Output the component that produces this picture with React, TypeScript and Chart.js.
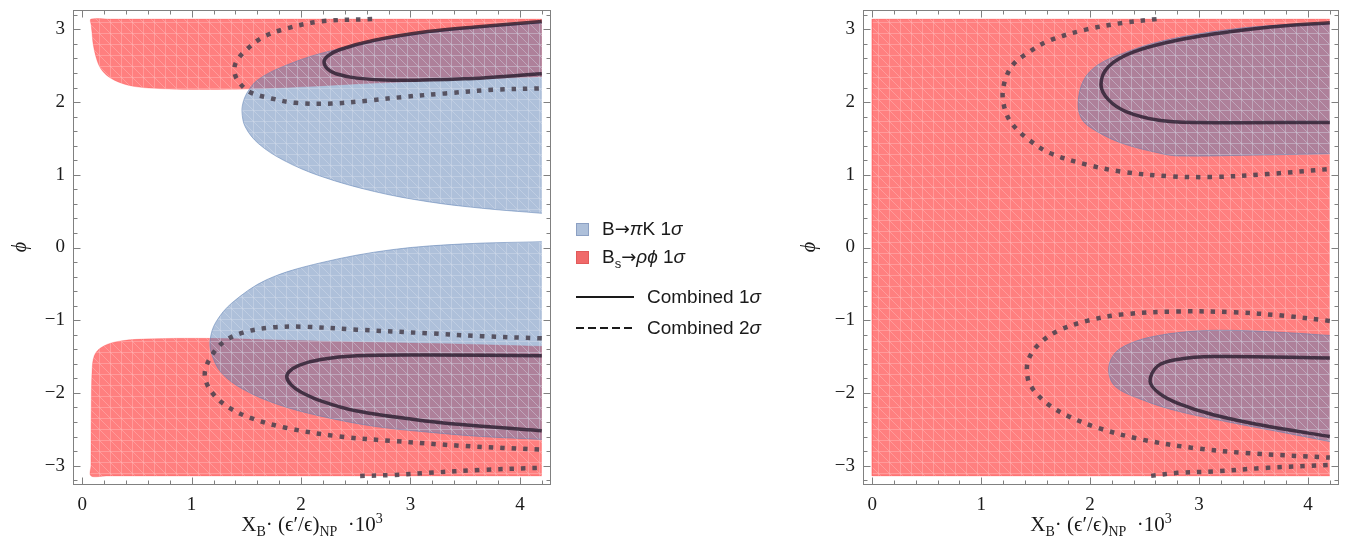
import React, { useEffect, useRef } from "react";
import { Chart, registerables } from "chart.js";
Chart.register(...registerables);

type P = [number, number];

// ---------- axes ----------
const X_RANGE: [number, number] = [-0.084, 4.284];
const Y_RANGE: [number, number] = [-3.267, 3.267];
const xMajorTicks = [0, 1, 2, 3, 4];
const yMajorTicks = [-3, -2, -1, 0, 1, 2, 3];
const xMinorTicks = [0.2, 0.4, 0.6, 0.8, 1.2, 1.4, 1.6, 1.8, 2.2, 2.4, 2.6, 2.8, 3.2, 3.4, 3.6, 3.8, 4.2];
const yMinorTicks = [-3.2, -2.8, -2.6, -2.4, -2.2, -1.8, -1.6, -1.4, -1.2, -0.8, -0.6, -0.4, -0.2, 0.2, 0.4, 0.6, 0.8, 1.2, 1.4, 1.6, 1.8, 2.2, 2.4, 2.6, 2.8, 3.2];

// ---------- left panel ----------
const leftRedTop: P[] = [[4.2, 3.1416], [0.25, 3.1416], [0.08, 3.1416], [0.082, 3.06], [0.09, 2.95], [0.1, 2.8], [0.13, 2.6], [0.17, 2.46], [0.24, 2.35], [0.36, 2.26], [0.5, 2.21], [0.72, 2.185], [1.0, 2.175], [1.5, 2.18], [2.0, 2.21], [2.5, 2.25], [3.0, 2.28], [3.5, 2.31], [4.2, 2.35]];
const leftRedBottom: P[] = [[4.2, -1.36], [3.5, -1.33], [2.5, -1.3], [1.7, -1.27], [1.17, -1.25], [0.55, -1.26], [0.3, -1.3], [0.17, -1.38], [0.11, -1.49], [0.09, -1.7], [0.083, -2.2], [0.08, -3.0], [0.08, -3.1416], [0.22, -3.1416], [4.2, -3.1416]];
const leftBlueTop: P[] = [[4.2, 3.09], [3.49, 3.01], [2.83, 2.88], [2.18, 2.67], [1.79, 2.46], [1.6, 2.3], [1.52, 2.16], [1.475, 2.02], [1.46, 1.87], [1.49, 1.66], [1.61, 1.43], [1.84, 1.2], [2.18, 0.98], [2.67, 0.77], [3.16, 0.63], [3.65, 0.54], [4.2, 0.47]];
const leftBlueBottom: P[] = [[4.2, 0.08], [3.49, 0.05], [2.83, -0.03], [2.18, -0.21], [1.69, -0.44], [1.37, -0.76], [1.22, -1.03], [1.17, -1.26], [1.18, -1.45], [1.27, -1.72], [1.47, -1.95], [1.79, -2.16], [2.18, -2.32], [2.67, -2.46], [3.16, -2.54], [3.65, -2.6], [4.2, -2.64]];
const left1SigmaTop: P[] = [[4.2, 3.11], [3.65, 3.04], [3.16, 2.97], [2.67, 2.85], [2.35, 2.72], [2.24, 2.63], [2.21, 2.55], [2.24, 2.46], [2.32, 2.39], [2.51, 2.33], [2.83, 2.3], [3.49, 2.32], [4.2, 2.39]];
const left1SigmaBottom: P[] = [[4.2, -1.49], [3.16, -1.48], [2.51, -1.49], [2.18, -1.54], [1.98, -1.62], [1.89, -1.71], [1.87, -1.79], [1.91, -1.89], [1.99, -1.98], [2.18, -2.11], [2.51, -2.25], [3.16, -2.39], [3.65, -2.46], [4.2, -2.52]];
const left2SigmaTop: P[] = [[2.65, 3.1416], [2.18, 3.11], [1.86, 3.01], [1.66, 2.9], [1.5, 2.72], [1.41, 2.56], [1.39, 2.42], [1.43, 2.28], [1.53, 2.14], [1.73, 2.05], [1.95, 1.99], [2.28, 1.98], [2.61, 2.02], [2.93, 2.07], [3.32, 2.12], [3.75, 2.17], [4.2, 2.19]];
const left2SigmaBottom: P[] = [[4.2, -1.25], [3.65, -1.22], [3.16, -1.18], [2.51, -1.13], [2.02, -1.09], [1.73, -1.1], [1.47, -1.17], [1.3, -1.29], [1.19, -1.47], [1.125, -1.68], [1.13, -1.84], [1.21, -2.04], [1.34, -2.2], [1.53, -2.34], [1.86, -2.48], [2.35, -2.6], [2.83, -2.66], [3.49, -2.73], [4.2, -2.78]];
const left2SigmaEdge: P[] = [[2.54, -3.1416], [2.83, -3.13], [3.16, -3.1], [3.65, -3.06], [4.2, -3.03]];

// ---------- right panel ----------
const rightRed: P[] = [[4.2, 3.1416], [0, 3.1416], [0, -3.1416], [4.2, -3.1416]];
const rightBlueTop: P[] = [[4.2, 3.08], [3.63, 3.05], [3.13, 2.97], [2.63, 2.83], [2.3, 2.67], [2.07, 2.51], [1.94, 2.3], [1.89, 1.98], [1.93, 1.75], [2.07, 1.59], [2.3, 1.43], [2.63, 1.3], [2.8, 1.26], [3.46, 1.27], [4.2, 1.29]];
const rightBlueBottom: P[] = [[4.2, -1.21], [3.79, -1.17], [3.3, -1.14], [2.96, -1.15], [2.63, -1.21], [2.4, -1.3], [2.23, -1.45], [2.17, -1.68], [2.23, -1.91], [2.47, -2.09], [2.8, -2.25], [3.3, -2.41], [3.79, -2.55], [4.2, -2.67]];
const right1SigmaTop: P[] = [[4.2, 3.09], [3.79, 3.05], [3.3, 2.97], [2.8, 2.85], [2.4, 2.69], [2.17, 2.49], [2.1, 2.24], [2.17, 2.03], [2.33, 1.87], [2.63, 1.75], [2.96, 1.72], [4.2, 1.72]];
const right1SigmaBottom: P[] = [[4.2, -1.52], [3.13, -1.5], [2.8, -1.54], [2.62, -1.63], [2.55, -1.84], [2.63, -2.0], [2.8, -2.14], [3.13, -2.3], [3.63, -2.46], [4.2, -2.6]];
const right2SigmaTop: P[] = [[2.61, 3.1416], [2.3, 3.09], [1.97, 3.0], [1.63, 2.85], [1.44, 2.69], [1.28, 2.49], [1.2, 2.17], [1.22, 1.89], [1.29, 1.69], [1.44, 1.48], [1.63, 1.3], [1.97, 1.14], [2.3, 1.04], [2.73, 0.98], [3.13, 0.97], [3.63, 1.01], [4.2, 1.08]];
const right2SigmaBottom: P[] = [[4.2, -1.01], [3.79, -0.94], [3.3, -0.89], [2.8, -0.88], [2.3, -0.92], [1.97, -1.01], [1.7, -1.15], [1.53, -1.33], [1.44, -1.52], [1.42, -1.68], [1.45, -1.89], [1.6, -2.14], [1.8, -2.32], [2.07, -2.48], [2.47, -2.64], [2.96, -2.76], [3.46, -2.83], [4.2, -2.89]];
const right2SigmaEdge: P[] = [[2.56, -3.1416], [2.8, -3.1], [3.13, -3.08], [3.63, -3.03], [4.2, -2.99]];

// ---------- styles ----------
const RED_FILL = "rgba(255,0,0,0.5)";
const BLUE_FILL = "rgba(94,129,181,0.5)";
const RED_EDGE = "rgba(255,60,60,0.25)";
const BLUE_EDGE = "rgba(94,129,181,0.55)";
const SOLID_COLOR = "rgba(40,28,45,0.8)";
const DOT_COLOR = "rgba(70,64,76,0.85)";

function makePattern(color: string): CanvasPattern | string {
  const c = document.createElement("canvas");
  const s = 11;
  c.width = s;
  c.height = s;
  const g = c.getContext("2d");
  if (!g) return color;
  g.fillStyle = color;
  g.fillRect(0, 0, s, s);
  g.strokeStyle = "rgba(255,255,255,0.22)";
  g.lineWidth = 1;
  g.beginPath();
  g.moveTo(0.5, 0);
  g.lineTo(0.5, s);
  g.moveTo(1, 0.5);
  g.lineTo(s, 0.5);
  g.moveTo(0, 0);
  g.lineTo(s, s);
  g.stroke();
  return g.createPattern(c, "repeat") || color;
}

const fmt = (v: number) => (v < 0 ? "\u2212" + Math.abs(v) : String(v));

const framePlugin = {
  id: "mmaFrame",
  afterDraw(chart: any) {
    const { ctx, chartArea: a, scales } = chart;
    const xs = scales.x;
    const ys = scales.y;
    ctx.save();
    ctx.strokeStyle = "#808080";
    ctx.lineWidth = 1;
    const L = Math.round(a.left) + 0.5;
    const R = Math.round(a.right) - 0.5;
    const T = Math.round(a.top) + 0.5;
    const B = Math.round(a.bottom) - 0.5;
    ctx.strokeRect(L, T, R - L, B - T);
    ctx.beginPath();
    const xt = (v: number, len: number) => {
      const px = Math.round(xs.getPixelForValue(v)) + 0.5;
      ctx.moveTo(px, B);
      ctx.lineTo(px, B - len);
      ctx.moveTo(px, T);
      ctx.lineTo(px, T + len);
    };
    const yt = (v: number, len: number) => {
      const py = Math.round(ys.getPixelForValue(v)) + 0.5;
      ctx.moveTo(L, py);
      ctx.lineTo(L + len, py);
      ctx.moveTo(R, py);
      ctx.lineTo(R - len, py);
    };
    xMajorTicks.forEach((v) => xt(v, 7));
    xMinorTicks.forEach((v) => xt(v, 4));
    yMajorTicks.forEach((v) => yt(v, 7));
    yMinorTicks.forEach((v) => yt(v, 4));
    ctx.stroke();

    ctx.fillStyle = "#1a1a1a";
    ctx.font = '19px "Liberation Serif"';
    ctx.textAlign = "center";
    ctx.textBaseline = "middle";
    xMajorTicks.forEach((v) => ctx.fillText(fmt(v), xs.getPixelForValue(v), a.bottom + 20));
    ctx.textAlign = "right";
    yMajorTicks.forEach((v) => ctx.fillText(fmt(v), a.left - 8, ys.getPixelForValue(v)));
    ctx.restore();
  },
};

type Region = { pts: P[]; fill: string; edge: string; order: number; tension: number };
type Curve = { pts: P[]; dashed: boolean };

function Panel(props: { regions: Region[]; curves: Curve[]; left: number; width: number; padL: number; padR: number }) {
  const ref = useRef<HTMLCanvasElement>(null);
  useEffect(() => {
    const canvas = ref.current;
    if (!canvas) return;
    const datasets: any[] = [];
    props.regions.forEach((r) => {
      datasets.push({
        data: r.pts.map(([x, y]) => ({ x, y })),
        showLine: true,
        fill: "shape",
        backgroundColor: makePattern(r.fill),
        borderColor: r.edge,
        borderWidth: 1,
        pointRadius: 0,
        tension: r.tension,
        order: r.order,
      });
    });
    props.curves.forEach((c) => {
      datasets.push({
        data: c.pts.map(([x, y]) => ({ x, y })),
        showLine: true,
        fill: false,
        borderColor: c.dashed ? DOT_COLOR : SOLID_COLOR,
        borderWidth: c.dashed ? 4.5 : 3.5,
        borderDash: c.dashed ? [4.5, 7] : [],
        borderCapStyle: "butt",
        pointRadius: 0,
        tension: 0.35,
        order: c.dashed ? 1 : 0,
      });
    });
    const chart = new Chart(canvas, {
      type: "scatter",
      data: { datasets },
      options: {
        animation: false,
        responsive: false,
        devicePixelRatio: 1,
        events: [],
        layout: { padding: { left: props.padL, right: props.padR, top: 10, bottom: 65 } },
        plugins: { legend: { display: false }, tooltip: { enabled: false } },
        scales: {
          x: { type: "linear", min: X_RANGE[0], max: X_RANGE[1], display: false },
          y: { type: "linear", min: Y_RANGE[0], max: Y_RANGE[1], display: false },
        },
      } as any,
      plugins: [framePlugin],
    });
    return () => chart.destroy();
  }, []);
  return (
    <canvas
      ref={ref}
      width={props.width}
      height={550}
      style={{ position: "absolute", left: props.left, top: 0, width: props.width, height: 550 }}
    />
  );
}

const serif = '"Liberation Serif", "DejaVu Serif", serif';
const sans = '"Liberation Sans", Arial, sans-serif';
const subStyle: React.CSSProperties = { fontSize: 14, lineHeight: 0 };

function XTitle({ left, width }: { left: number; width: number }) {
  return (
    <div
      style={{
        position: "absolute",
        left,
        width,
        top: 512,
        textAlign: "center",
        fontFamily: serif,
        fontSize: 21,
        lineHeight: "24px",
        color: "#1a1a1a",
        whiteSpace: "nowrap",
      }}
    >
      X<sub style={subStyle}>B</sub>· (ϵ′/ϵ)
      <sub style={subStyle}>NP</sub>&nbsp; ·10
      <sup style={subStyle}>3</sup>
    </div>
  );
}

function PhiLabel({ cx }: { cx: number }) {
  return (
    <div
      style={{
        position: "absolute",
        left: cx - 15,
        top: 236,
        width: 30,
        height: 22,
        lineHeight: "22px",
        textAlign: "center",
        fontFamily: serif,
        fontStyle: "italic",
        fontSize: 20,
        color: "#1a1a1a",
        transform: "rotate(-90deg)",
      }}
    >
      ϕ
    </div>
  );
}

const arrow: React.CSSProperties = { fontFamily: '"DejaVu Sans", sans-serif', fontSize: 18 };

export default function App() {
  const leftRegions: Region[] = [
    { pts: leftRedTop, fill: RED_FILL, edge: RED_EDGE, order: 5, tension: 0.35 },
    { pts: leftRedBottom, fill: RED_FILL, edge: RED_EDGE, order: 5, tension: 0.35 },
    { pts: leftBlueTop, fill: BLUE_FILL, edge: BLUE_EDGE, order: 4, tension: 0.35 },
    { pts: leftBlueBottom, fill: BLUE_FILL, edge: BLUE_EDGE, order: 4, tension: 0.35 },
  ];
  const leftCurves: Curve[] = [
    { pts: left1SigmaTop, dashed: false },
    { pts: left1SigmaBottom, dashed: false },
    { pts: left2SigmaTop, dashed: true },
    { pts: left2SigmaBottom, dashed: true },
    { pts: left2SigmaEdge, dashed: true },
  ];
  const rightRegions: Region[] = [
    { pts: rightRed, fill: RED_FILL, edge: RED_EDGE, order: 5, tension: 0 },
    { pts: rightBlueTop, fill: BLUE_FILL, edge: BLUE_EDGE, order: 4, tension: 0.35 },
    { pts: rightBlueBottom, fill: BLUE_FILL, edge: BLUE_EDGE, order: 4, tension: 0.35 },
  ];
  const rightCurves: Curve[] = [
    { pts: right1SigmaTop, dashed: false },
    { pts: right1SigmaBottom, dashed: false },
    { pts: right2SigmaTop, dashed: true },
    { pts: right2SigmaBottom, dashed: true },
    { pts: right2SigmaEdge, dashed: true },
  ];
  const legendText: React.CSSProperties = {
    position: "absolute",
    fontFamily: sans,
    fontSize: 19,
    lineHeight: "22px",
    color: "#1a1a1a",
    whiteSpace: "nowrap",
  };
  return (
    <div style={{ position: "absolute", left: 0, top: 0, width: 1348, height: 550, background: "#fff", overflow: "hidden" }}>
      <Panel regions={leftRegions} curves={leftCurves} left={0} width={560} padL={73} padR={9} />
      <Panel regions={rightRegions} curves={rightCurves} left={790} width={558} padL={73} padR={9} />
      <XTitle left={73} width={478} />
      <XTitle left={863} width={476} />
      <PhiLabel cx={19} />
      <PhiLabel cx={808} />
      {/* legend */}
      <div style={{ position: "absolute", left: 576, top: 223, width: 11, height: 11, background: "rgb(174,192,218)", border: "1px solid rgb(140,160,195)" }} />
      <div style={{ ...legendText, left: 602, top: 218 }}>
        B<span style={arrow}>→</span><i>π</i>K 1<i>σ</i>
      </div>
      <div style={{ position: "absolute", left: 576, top: 251, width: 11, height: 11, background: "rgb(240,105,105)", border: "1px solid rgb(225,90,90)" }} />
      <div style={{ ...legendText, left: 602, top: 246 }}>
        B<sub style={{ fontSize: 13, lineHeight: 0 }}>s</sub><span style={arrow}>→</span><i>ρϕ</i> 1<i>σ</i>
      </div>
      <svg style={{ position: "absolute", left: 576, top: 292, width: 60, height: 40 }} width={60} height={40}>
        <line x1={0} y1={5} x2={58} y2={5} stroke="#1a1a1a" strokeWidth={2} />
        <line x1={0} y1={36} x2={58} y2={36} stroke="#1a1a1a" strokeWidth={2} strokeDasharray="8 4" />
      </svg>
      <div style={{ ...legendText, left: 647, top: 286 }}>
        Combined 1<i>σ</i>
      </div>
      <div style={{ ...legendText, left: 647, top: 317 }}>
        Combined 2<i>σ</i>
      </div>
    </div>
  );
}
